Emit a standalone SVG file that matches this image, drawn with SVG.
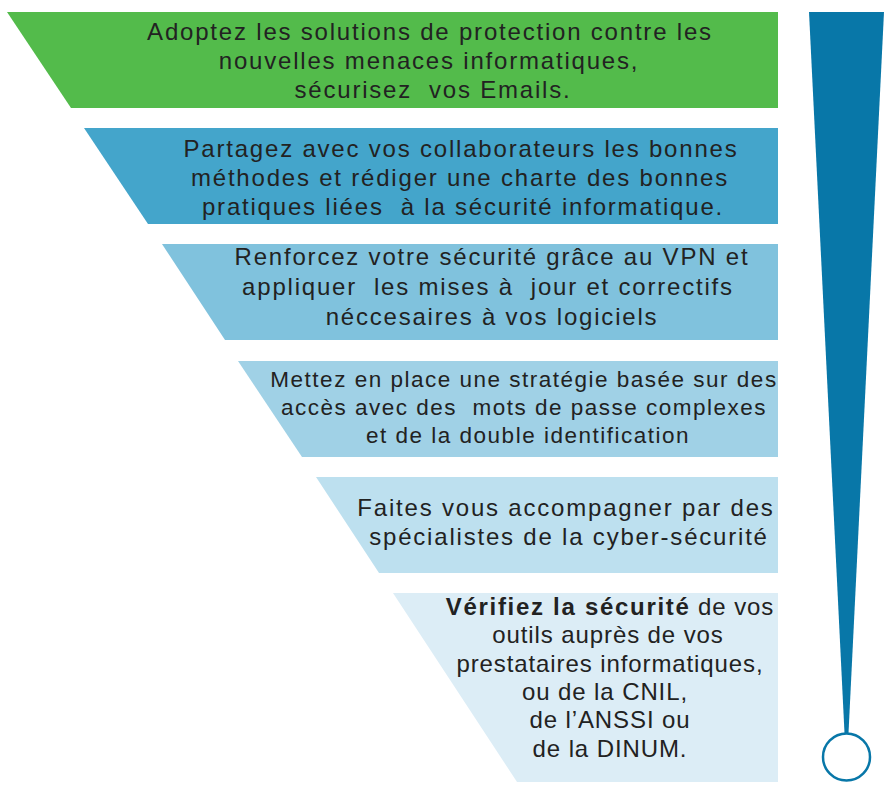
<svg xmlns="http://www.w3.org/2000/svg" width="892" height="792" viewBox="0 0 892 792">
<style>
text{font-family:"Liberation Sans",Arial,sans-serif;fill:#222;text-anchor:middle;white-space:pre}
.l{font-size:24px;letter-spacing:1.8px}
.s{font-size:22.5px;letter-spacing:1.5px}
.t{font-size:24px;letter-spacing:0.9px}
.b{font-weight:bold;letter-spacing:1.7px}
</style>
<rect width="892" height="792" fill="#fff"/>
<g id="band1">
<polygon points="7,12 778,12 778,108 71,108" fill="#53bb4b"/>
<text class="l" xml:space="preserve"><tspan x="430" y="40">Adoptez les solutions de protection contre les</tspan><tspan x="429" y="69">nouvelles menaces informatiques,</tspan><tspan x="433" y="98">sécurisez  vos Emails.</tspan></text>
</g>
<g id="band2">
<polygon points="84,128 778,128 778,224 148,224" fill="#44a5cb"/>
<text class="l" xml:space="preserve"><tspan x="461" y="157">Partagez avec vos collaborateurs les bonnes</tspan><tspan x="460" y="186">méthodes et rédiger une charte des bonnes</tspan><tspan x="463" y="215">pratiques liées  à la sécurité informatique.</tspan></text>
</g>
<g id="band3">
<polygon points="162,244 778,244 778,340 225,340" fill="#80c2dd"/>
<text class="l" xml:space="preserve"><tspan x="492" y="265">Renforcez votre sécurité grâce au VPN et</tspan><tspan x="488" y="295">appliquer  les mises à  jour et correctifs</tspan><tspan x="492" y="325">néccesaires à vos logiciels</tspan></text>
</g>
<g id="band4">
<polygon points="238,361 778,361 778,457 302,457" fill="#a0d1e6"/>
<text class="s" xml:space="preserve"><tspan x="524" y="387">Mettez en place une stratégie basée sur des</tspan><tspan x="524" y="415">accès avec des  mots de passe complexes</tspan><tspan x="528" y="443">et de la double identification</tspan></text>
</g>
<g id="band5">
<polygon points="316,477 778,477 778,573 379,573" fill="#bde0ef"/>
<text class="l" xml:space="preserve"><tspan x="566" y="516">Faites vous accompagner par des</tspan><tspan x="569" y="545">spécialistes de la cyber-sécurité</tspan></text>
</g>
<g id="band6">
<polygon points="393,593 778,593 778,782 517,782" fill="#dcedf6"/>
<text class="t" xml:space="preserve"><tspan x="610" y="615"><tspan class="b">Vérifiez la sécurité</tspan> de vos</tspan><tspan x="608" y="643">outils auprès de vos</tspan><tspan x="610" y="672">prestataires informatiques,</tspan><tspan x="605" y="700">ou de la CNIL,</tspan><tspan x="610" y="728">de l’ANSSI ou</tspan><tspan x="610" y="757">de la DINUM.</tspan></text>
</g>
<g id="gauge">
<polygon points="809,12 884,12 848.5,733 844.5,733" fill="#0877a8"/>
<circle cx="846.5" cy="757" r="23.5" fill="#fff" stroke="#0877a8" stroke-width="2.5"/>
</g>
<g id="connectors"/>
</svg>
